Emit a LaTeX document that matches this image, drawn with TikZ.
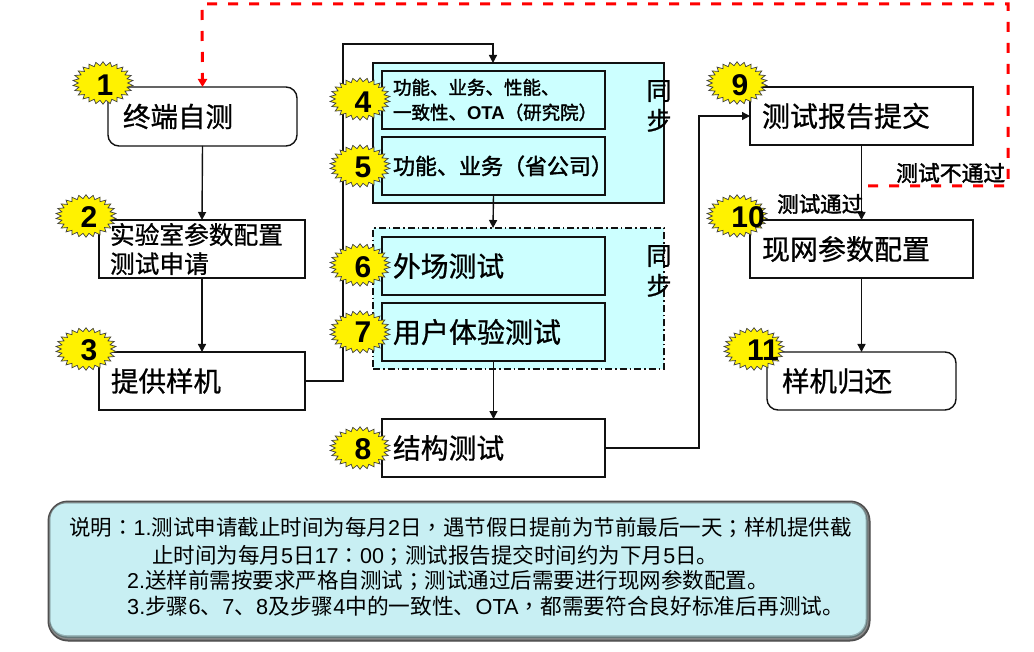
\documentclass[tikz,border=0pt]{standalone}
\usepackage{fontspec}
\usetikzlibrary{arrows.meta,shapes.geometric,calc}
\setmainfont{Liberation Sans}
\newfontfamily\cjkn{Noto Sans CJK SC}
\newfontfamily\cjktc{Noto Sans CJK TC}
\newfontfamily\cjk[FakeBold=0.8]{Noto Sans CJK SC}
\newfontfamily\cjkb[FakeBold=1.8]{Noto Sans CJK SC}
\newcommand{\tcp}[1]{{\cjktc #1}}
\newcommand{\dn}[1]{\raisebox{-1.5pt}{#1}}
\definecolor{cyanfill}{HTML}{CCFFFF}
\definecolor{panelfill}{HTML}{C8EFF3}
\definecolor{linegray}{HTML}{111111}
\tikzset{
  x=1pt,y=-1pt,
  boxst/.style={draw=linegray,line width=1.4pt,anchor=north west,align=left,outer sep=0pt,inner ysep=0pt},
  groupst/.style={draw=linegray,line width=1.1pt,fill=cyanfill,anchor=north west,outer sep=0pt,inner sep=0pt},
  link/.style={draw=linegray,line width=1.4pt},
  tip/.style={-{Triangle[length=8pt,width=8pt]}},
  redlink/.style={draw=red,line width=3pt,dash pattern=on 10pt off 11pt},
  burst/.style={star,star points=26,star point ratio=1.22,inner sep=0pt,minimum size=42.5pt,draw=black!75,line width=.7pt,fill=yellow,xscale=1.42,transform shape},
  numst/.style={font=\fontsize{30}{30}\selectfont\bfseries,inner sep=0pt},
  note/.style={anchor=west,inner sep=0pt,font=\fontsize{21.5}{21.5}\selectfont\cjkn},
}
\newcommand{\burstat}[6]{%
  \begin{scope}[shift={(#2,#3)}]\node[burst] (s#1) at (0,0) {};\end{scope}
  \node[numst] (n#1) at (#4,#5) {#6};
}
\begin{document}
\begin{tikzpicture}
\useasboundingbox (0,0) rectangle (1034,652);
% panel with bevelled edge
\node[draw=black!70,line width=1pt,rounded corners=20pt,fill=black!65,anchor=north west,minimum width=822pt,minimum height=140pt,inner sep=0pt,outer sep=0pt] (panel) at (48,501) {};
\fill[black!45,rounded corners=19pt] (49,502) rectangle (868.5,639.5);
\fill[panelfill!50!black,rounded corners=18pt] (49.5,502.5) rectangle (867.5,638);
\fill[panelfill!75!black,rounded corners=17pt] (50,503) rectangle (866.5,636.5);
\fill[panelfill,rounded corners=16pt] (50.5,503.5) rectangle (865.5,635);
% groups
\node[groupst,minimum width=291pt,minimum height=140pt] (gA) at (373,63) {};
\node[groupst,dash pattern=on 7pt off 3pt on 1.5pt off 3pt,minimum width=291pt,minimum height=141pt] (gB) at (373,228) {};
% boxes
\node[boxst,rounded corners=11pt,fill=white,minimum width=189pt,minimum height=59pt,text width=159pt,inner xsep=15pt,font=\fontsize{27.5}{27.5}\selectfont\cjk] (b1) at (108,87) {\dn{终端自测}};
\node[boxst,fill=white,minimum width=206pt,minimum height=58pt,text width=184pt,inner xsep=11pt,font=\fontsize{24.7}{29}\selectfont\cjk] (b2) at (99,220) {\dn{实验室参数配置}\\\dn{测试申请}};
\node[boxst,fill=white,minimum width=206pt,minimum height=58pt,text width=182pt,inner xsep=12pt,font=\fontsize{27.5}{27.5}\selectfont\cjk] (b3) at (99,352) {\dn{提供样机}};
\node[boxst,fill=cyanfill,minimum width=223pt,minimum height=58pt,text width=201pt,inner xsep=11pt,font=\fontsize{18.5}{25}\selectfont\cjkb] (b4) at (382,71) {功能、业务、性能、\\一致性、{\bfseries\fontspec{Liberation Sans}OTA}（研究院）};
\node[boxst,fill=cyanfill,minimum width=223pt,minimum height=58pt,text width=201pt,inner xsep=11pt,font=\fontsize{22}{22}\selectfont\cjkb] (b5) at (382,137) {功能、业务（省公司）};
\node[boxst,fill=cyanfill,minimum width=223pt,minimum height=58pt,text width=201pt,inner xsep=11pt,font=\fontsize{27.8}{27.8}\selectfont\cjk] (b6) at (382,237) {\dn{外场测试}};
\node[boxst,fill=cyanfill,minimum width=223pt,minimum height=58pt,text width=201pt,inner xsep=11pt,font=\fontsize{28}{28}\selectfont\cjk] (b7) at (382,303) {\dn{用户体验测试}};
\node[boxst,fill=white,minimum width=223pt,minimum height=58pt,text width=201pt,inner xsep=11pt,font=\fontsize{27.8}{27.8}\selectfont\cjk] (b8) at (382,419) {\dn{结构测试}};
\node[boxst,fill=white,minimum width=223pt,minimum height=58pt,text width=199pt,inner xsep=12pt,font=\fontsize{28}{28}\selectfont\cjk] (b9) at (750,87) {\dn{测试报告提交}};
\node[boxst,fill=white,minimum width=223pt,minimum height=58pt,text width=199pt,inner xsep=12pt,font=\fontsize{28}{28}\selectfont\cjk] (b10) at (750,220) {\dn{现网参数配置}};
\node[boxst,rounded corners=11pt,fill=white,minimum width=189pt,minimum height=58pt,text width=159pt,inner xsep=15pt,font=\fontsize{27.5}{27.5}\selectfont\cjk] (b11) at (767,352) {\dn{样机归还}};
% sync labels
\node[inner sep=0pt,align=center,font=\fontsize{25}{30}\selectfont\cjk] (syncA) at (659,106) {同\\步};
\node[inner sep=0pt,align=center,font=\fontsize{25}{30}\selectfont\cjk] (syncB) at (659,271) {同\\步};
% connectors
\coordinate (c3a) at (343,381);
\coordinate (c3b) at (343,44);
\coordinate (c3c) at (493,44);
\coordinate (gAin) at (493,63);
\coordinate (gBin) at (493,228);
\coordinate (c8a) at (699,448);
\coordinate (c8b) at (699,116);
\coordinate (r1) at (868,186);
\coordinate (r2) at (1008,186);
\coordinate (r3) at (1008,4);
\coordinate (r4) at (202,4);
\draw[link,tip] (b1.south) -- (b2.north);
\draw[link,tip] (b2.south) -- (b3.north);
\draw[link,tip] (b3.east) -- (c3a) -- (c3b) -- (c3c) -- (gAin);
\draw[link,tip] (b5.south) -- (gBin);
\draw[link,tip] (b7.south) -- (b8.north);
\draw[link,tip] (b8.east) -- (c8a) -- (c8b) -- (b9.west);
\draw[link,tip] (b9.south) -- (b10.north);
\draw[link,tip] (b10.south) -- (b11.north);
\draw[redlink] (r1) -- (r2) -- (r3) -- (r4) -- ($(b1.north)+(0,-8)$);
\draw[red,line width=3pt,-{Triangle[length=8pt,width=9pt]}] ($(b1.north)+(0,-10)$) -- (b1.north);
% bursts
\burstat{1}{103}{83}{105}{85}{1}
\burstat{2}{86}{216}{89}{217}{2}
\burstat{3}{86}{349}{89}{350}{3}
\burstat{4}{360}{99}{363}{102}{4}
\burstat{5}{360}{166}{363}{167}{5}
\burstat{6}{360}{265}{363}{267}{6}
\burstat{7}{360}{332}{363}{332}{7}
\burstat{8}{360}{448}{363}{449}{8}
\burstat{9}{737}{83}{740}{85}{9}
\burstat{10}{737}{216}{748}{217}{10}
\burstat{11}{754}{349}{763}{350}{11}
% edge labels
\node[inner sep=0pt,anchor=west,font=\fontsize{21.8}{21.8}\selectfont\cjkb] (lfail) at (896,173) {测试不通过};
\node[inner sep=0pt,anchor=west,font=\fontsize{21.5}{21.5}\selectfont\cjkb] (lpass) at (777,204) {测试通过};
% note
\node[note] (l1) at (69,528) {说明\tcp{：}{\rmfamily 1.}测试申请截止时间为每月{\rmfamily 2}日\tcp{，}遇节假日提前为节前最后一天\tcp{；}样机提供截};
\node[note] (l2) at (152,555) {止时间为每月{\rmfamily 5}日{\rmfamily 17}\tcp{：}{\rmfamily 00}\tcp{；}测试报告提交时间约为下月{\rmfamily 5}日。};
\node[note] (l3) at (127,581) {{\rmfamily 2.}送样前需按要求严格自测试\tcp{；}测试通过后需要进行现网参数配置。};
\node[note,font=\fontsize{21.7}{21.7}\selectfont\cjkn] (l4) at (127,606) {{\rmfamily 3.}步骤{\rmfamily 6}、{\rmfamily 7}、{\rmfamily 8}及步骤{\rmfamily 4}中的一致性、{\rmfamily OTA}\tcp{，}都需要符合良好标准后再测试。};
\end{tikzpicture}
\end{document}
